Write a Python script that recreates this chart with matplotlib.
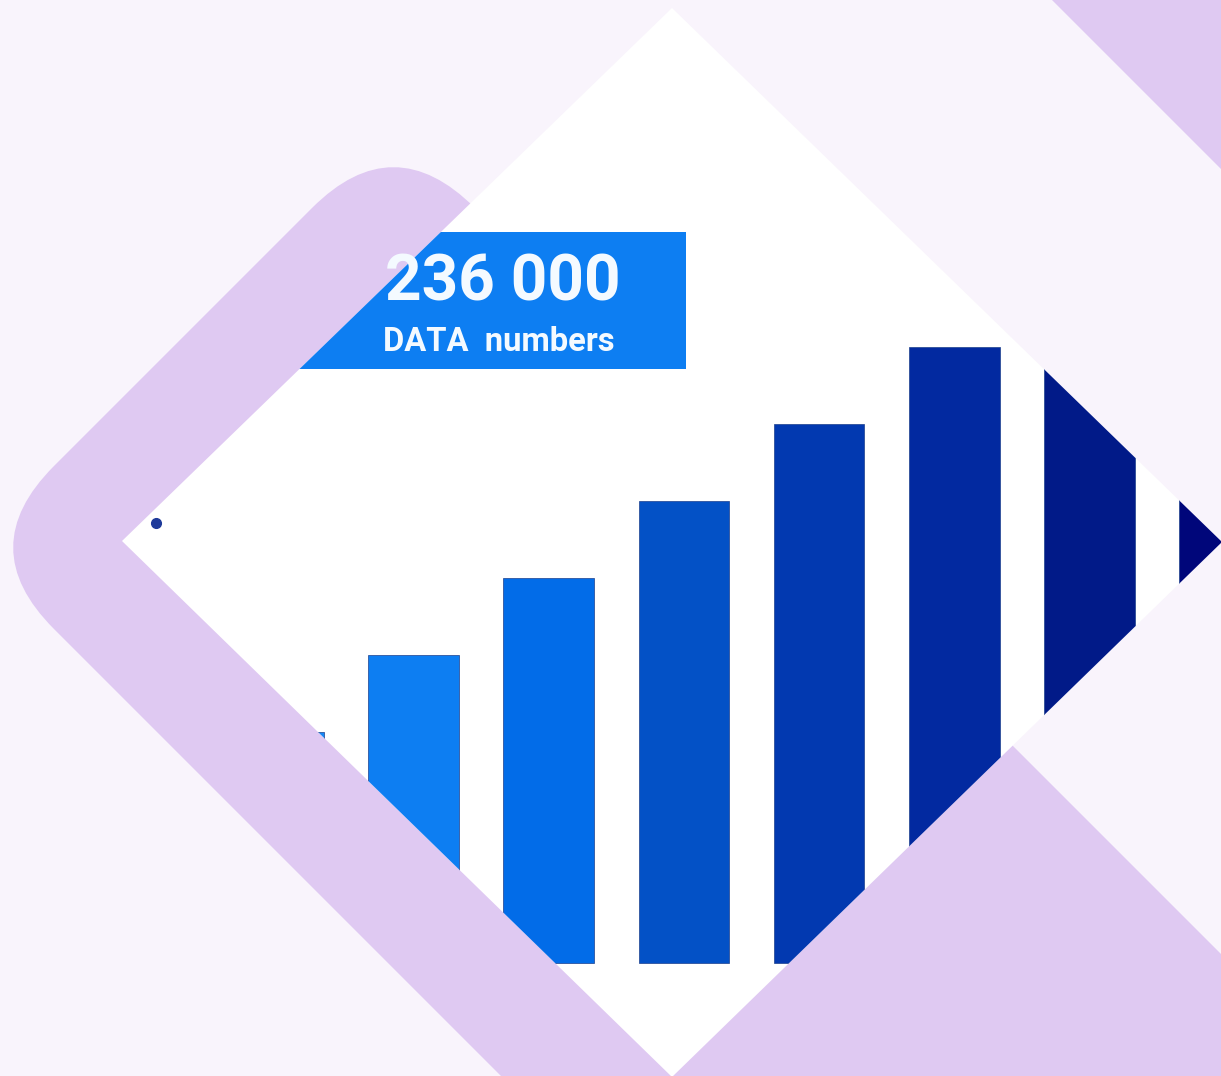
import matplotlib
matplotlib.use('Agg')
import matplotlib.pyplot as plt
from matplotlib.patches import Polygon, Rectangle, FancyBboxPatch
from matplotlib.transforms import Affine2D
import numpy as np

# chart data
positions = [0, 1, 2, 3, 4, 5, 6, 7]
values = [30, 40, 50, 60, 70, 80, 90, 100]
bar_colors = ['#1788F5', '#0D7EF2', '#026CE8', '#0351C6', '#0239B0', '#0229A0', '#011A88', '#00067A']
dot_x = [-0.907]
dot_y = [57.2]
big_label = '236 000'
small_label = 'DATA  numbers'

W, H = 1221, 1076
BG = '#F9F4FC'
LAV = '#DFC9F2'

fig = plt.figure(figsize=(W / 100, H / 100), dpi=100, facecolor=BG)

# decoration layer in pixel coordinates
bg = fig.add_axes([0, 0, 1, 1])
bg.set_xlim(0, W)
bg.set_ylim(H, 0)
bg.axis('off')
bg.set_facecolor(BG)

# big rounded, rotated lavender square on the left
r2 = np.sqrt(2)
u0, v0, v1 = 520 / r2, -267 / r2, 575 / r2
band = FancyBboxPatch((u0, v0), 2000 - u0, v1 - v0,
                      boxstyle='round,pad=0,rounding_size=115',
                      facecolor=LAV, edgecolor='none',
                      transform=Affine2D().rotate_deg(45) + bg.transData, zorder=1)
bg.add_patch(band)
bg.add_patch(Polygon([(1052, 0), (1300, 0), (1300, 248)], closed=True,
                     facecolor=LAV, edgecolor='none', zorder=1))
bg.add_patch(Polygon([(1011, 746), (1400, 1135), (1011, 1524), (622, 1135)], closed=True,
                     facecolor=LAV, edgecolor='none', zorder=1))

diamond = Polygon([(672, 8), (1222, 542), (672, 1077), (122, 541)], closed=True,
                  facecolor='white', edgecolor='none', zorder=2)
bg.add_patch(diamond)

# label box
box = Rectangle((280, 232), 406, 137, facecolor='#0D7EF2', edgecolor='none', zorder=3)
bg.add_patch(box)
box.set_clip_path(diamond)
t1 = bg.text(503, 283, big_label, color='#F4FAFF', fontsize=46, fontweight='bold',
             family='Roboto', ha='center', va='center', zorder=4)
t2 = bg.text(498.5, 342, small_label, color='#F4FAFF', fontsize=23.6, fontweight='bold',
             family='Roboto', ha='center', va='center', zorder=4)
t1.set_clip_path(diamond)
t2.set_clip_path(diamond)

# bar chart layer, clipped by the diamond
PX0, PITCH, BASE, PXU = 278.3, 135.2, 963, 7.7
ax = fig.add_axes([0, 0, 1, 1])
ax.patch.set_alpha(0)
ax.axis('off')
ax.set_xlim(-PX0 / PITCH, (W - PX0) / PITCH)
ax.set_ylim((BASE - H) / PXU, BASE / PXU)

bars = ax.bar(positions, values, width=0.67, color=bar_colors,
              edgecolor='#1B3F8C', linewidth=0.5)
for b in bars:
    b.set_clip_path(diamond)
pts = ax.plot(dot_x, dot_y, 'o', color='#1E3A9A', markersize=7)
for p in pts:
    p.set_clip_path(diamond)

fig.savefig('out.png', dpi=100, facecolor=BG)
